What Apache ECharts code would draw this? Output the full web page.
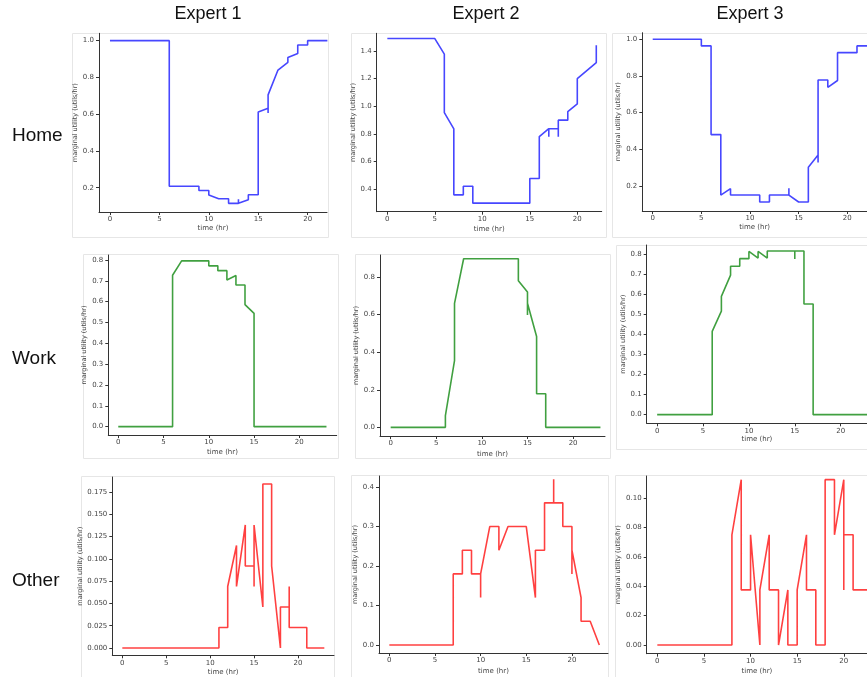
<!DOCTYPE html>
<html>
<head>
<meta charset="utf-8">
<script src="https://cdn.jsdelivr.net/npm/echarts@6/dist/echarts.min.js"></script>
<style>
html,body{margin:0;padding:0;background:#fff;}
#chart{width:867px;height:677px;}
</style>
</head>
<body>
<div id="chart"></div>
<script>
// ---- data ----
const experts = ['Expert 1', 'Expert 2', 'Expert 3'];
const activities = ['Home', 'Work', 'Other'];
const xTicks = [0, 5, 10, 15, 20];

const e1Home = [[0,1.0],[6,1.0],[6,0.208],[9,0.208],[9,0.185],[10,0.185],[10,0.16],[11,0.14],[12,0.14],[12,0.115],[13,0.115],[13,0.138],[13,0.115],[14,0.135],[14,0.162],[15,0.162],[15,0.612],[16,0.632],[16,0.607],[16,0.705],[17,0.84],[18,0.882],[18,0.909],[19,0.93],[19,0.976],[20,0.976],[20,1.0],[22,1.0]];
const e2Home = [[0,1.49],[5,1.49],[6,1.378],[6,0.955],[7,0.837],[7,0.36],[8,0.36],[8,0.422],[9,0.422],[9,0.3],[15,0.3],[15,0.478],[16,0.478],[16,0.781],[17,0.838],[17,0.78],[17,0.838],[18,0.838],[18,0.78],[18,0.9],[19,0.9],[19,0.961],[20,1.017],[20,1.2],[22,1.316],[22,1.441]];
const e3Home = [[0,1.0],[5,1.0],[5,0.964],[6,0.964],[6,0.48],[7,0.48],[7,0.15],[8,0.185],[8,0.15],[11,0.15],[11,0.112],[12,0.112],[12,0.15],[14,0.15],[14,0.187],[14,0.15],[15,0.112],[16,0.112],[16,0.302],[17,0.369],[17,0.327],[17,0.778],[18,0.778],[18,0.738],[19,0.775],[19,0.927],[21,0.927],[21,0.964],[23,0.964]];

const e1Work = [[0,0],[6,0],[6,0.727],[7,0.796],[10,0.796],[10,0.772],[11,0.772],[11,0.749],[12,0.749],[12,0.704],[13,0.726],[13,0.68],[14,0.68],[14,0.586],[15,0.544],[15,0],[23,0]];
const e2Work = [[0,0],[6,0],[6,0.062],[7,0.355],[7,0.66],[8,0.897],[14,0.897],[14,0.78],[15,0.72],[15,0.598],[15,0.66],[16,0.483],[16,0.179],[17,0.179],[17,0],[23,0]];
const e3Work = [[0,0],[6,0],[6,0.415],[7,0.516],[7,0.589],[8,0.695],[8,0.739],[9,0.739],[9,0.777],[10,0.777],[10,0.813],[11,0.78],[11,0.813],[12,0.78],[12,0.815],[15,0.815],[15,0.775],[15,0.815],[16,0.815],[16,0.551],[17,0.551],[17,0],[23,0]];

const e1Other = [[0,0],[11,0],[11,0.023],[12,0.023],[12,0.069],[13,0.115],[13,0.069],[14,0.138],[14,0.092],[15,0.092],[15,0.069],[15,0.138],[16,0.046],[16,0.184],[17,0.184],[17,0.092],[18,0],[18,0.046],[19,0.046],[19,0.069],[19,0.023],[21,0.023],[21,0],[23,0]];
const e2Other = [[0,0],[7,0],[7,0.18],[8,0.18],[8,0.24],[9,0.24],[9,0.18],[10,0.18],[10,0.12],[10,0.18],[11,0.3],[12,0.3],[12,0.24],[13,0.3],[15,0.3],[16,0.12],[16,0.24],[17,0.24],[17,0.36],[18,0.36],[18,0.42],[18,0.36],[19,0.36],[19,0.3],[20,0.3],[20,0.18],[20,0.24],[21,0.12],[21,0.06],[22,0.06],[23,0]];
const e3Other = [[0,0],[8,0],[8,0.075],[9,0.1125],[9,0.0375],[10,0.0375],[10,0.075],[11,0],[11,0.0375],[12,0.075],[12,0.0375],[13,0.0375],[13,0],[14,0.0375],[14,0],[15,0],[15,0.0375],[16,0.075],[16,0.0375],[17,0.0375],[17,0],[18,0],[18,0.1125],[19,0.1125],[19,0.075],[20,0.1125],[20,0.0375],[20,0.075],[21,0.075],[21,0.0375],[23,0.0375]];

const homeTicksA = [0.2, 0.4, 0.6, 0.8, 1.0];
const homeTicksB = [0.4, 0.6, 0.8, 1.0, 1.2, 1.4];
const workTicksA = [0, 0.1, 0.2, 0.3, 0.4, 0.5, 0.6, 0.7, 0.8];
const workTicksB = [0, 0.2, 0.4, 0.6, 0.8];
const otherTicksA = [0, 0.025, 0.05, 0.075, 0.1, 0.125, 0.15, 0.175];
const otherTicksB = [0, 0.1, 0.2, 0.3, 0.4];
const otherTicksC = [0, 0.02, 0.04, 0.06, 0.08, 0.1];

// ---- layout / style ----
const BLUE = 'rgba(0,0,255,0.72)', GREEN = 'rgba(0,128,0,0.75)', RED = 'rgba(255,0,0,0.75)';
const panels = [
  {data:e1Home, yt:homeTicksA, dec:1, color:BLUE,  box:[99,33.3,327,212],    x:[-1.11,21.96], y:[0.068,1.040], xg:12.5, yg:14.7},
  {data:e2Home, yt:homeTicksB, dec:1, color:BLUE,  box:[376.7,33.3,601.7,211.7], x:[-1.12,22.57], y:[0.238,1.528], xg:14, yg:13.7},
  {data:e3Home, yt:homeTicksA, dec:1, color:BLUE,  box:[642.3,32.7,867,211], x:[-1.07,22.03], y:[0.063,1.036], xg:13, yg:14.3},
  {data:e1Work, yt:workTicksA, dec:1, color:GREEN, box:[108.3,255,336.7,435], x:[-1.10,24.13], y:[-0.040,0.824], xg:14, yg:14.6},
  {data:e2Work, yt:workTicksB, dec:1, color:GREEN, box:[380,255,605,436],    x:[-1.17,23.5],  y:[-0.046,0.917], xg:14.5, yg:13},
  {data:e3Work, yt:workTicksA, dec:1, color:GREEN, box:[646.7,245,867,423.3], x:[-1.14,22.87], y:[-0.043,0.845], xg:12.5, yg:14.7},
  {data:e1Other, yt:otherTicksA, dec:3, color:RED, box:[112.3,477,334,655.3], x:[-1.14,24.1], y:[-0.0082,0.1918], xg:13.5, yg:21},
  {data:e2Other, yt:otherTicksB, dec:1, color:RED, box:[379,476,608,653],    x:[-1.13,23.95], y:[-0.0203,0.428], xg:14.5, yg:13.7},
  {data:e3Other, yt:otherTicksC, dec:2, color:RED, box:[646.7,476,867,653.7], x:[-1.14,22.49], y:[-0.0059,0.115], xg:13.5, yg:19.7}
];
const frames = [
  [72,33,328,237],[351,33,606,237],[612,33,868,237],
  [83,254,338,458],[355,254,610,458],[616,245,868,449],
  [81,476,334,680],[351,475,608,680],[615,475,868,680]
];
const colTitleX = [208, 486, 750];
const rowLabelY = [136, 359, 581];

const AX = '#333';
const labelFont = {fontFamily:'DejaVu Sans', fontSize:7, color:'#444'};

const grid = [], xAxis = [], yAxis = [], series = [];
panels.forEach((p, i) => {
  const [l, t, r, b] = p.box;
  grid.push({left:l, top:t, width:r-l, height:b-t, containLabel:false});
  xAxis.push({
    type:'value', gridIndex:i, min:p.x[0], max:p.x[1],
    name:'time (hr)', nameLocation:'middle', nameGap:p.xg,
    nameTextStyle:{fontFamily:'DejaVu Sans', fontSize:7, color:'#444'},
    axisLine:{show:true, onZero:false, lineStyle:{color:AX, width:1}},
    axisTick:{show:true, length:3, lineStyle:{color:AX}, customValues:xTicks},
    axisLabel:{...labelFont, margin:4, customValues:xTicks, formatter:v=>String(v)},
    splitLine:{show:false}
  });
  yAxis.push({
    type:'value', gridIndex:i, min:p.y[0], max:p.y[1],
    name:'marginal utility (utils/hr)', nameLocation:'middle', nameGap:p.yg,
    nameTextStyle:{fontFamily:'DejaVu Sans', fontSize:6.5, color:'#444'},
    axisLine:{show:true, onZero:false, lineStyle:{color:AX, width:1}},
    axisTick:{show:true, length:3, lineStyle:{color:AX}, customValues:p.yt},
    axisLabel:{...labelFont, margin:5, customValues:p.yt, formatter:v=>v.toFixed(p.dec)},
    splitLine:{show:false}
  });
  series.push({
    type:'line', xAxisIndex:i, yAxisIndex:i, data:p.data,
    showSymbol:false, symbol:'none', animation:false,
    lineStyle:{color:p.color, width:1.6}
  });
});

const graphic = [];
frames.forEach(f => {
  graphic.push({type:'rect', z:-10, shape:{x:f[0]+0.5, y:f[1]+0.5, width:f[2]-f[0], height:f[3]-f[1]},
    style:{fill:'#fff', stroke:'#e6e6e6', lineWidth:1}});
});
experts.forEach((e, i) => {
  graphic.push({type:'text', x:colTitleX[i], y:14, style:{text:e, fontFamily:'Liberation Sans', fontSize:18, fill:'#111', align:'center', verticalAlign:'middle'}});
});
activities.forEach((a, i) => {
  graphic.push({type:'text', x:12, y:rowLabelY[i], style:{text:a, fontFamily:'Liberation Sans', fontSize:19, fill:'#111', align:'left', verticalAlign:'middle'}});
});

const chart = echarts.init(document.getElementById('chart'), null, {renderer:'canvas'});
chart.setOption({animation:false, backgroundColor:'#fff', grid, xAxis, yAxis, series, graphic});
</script>
</body>
</html>
